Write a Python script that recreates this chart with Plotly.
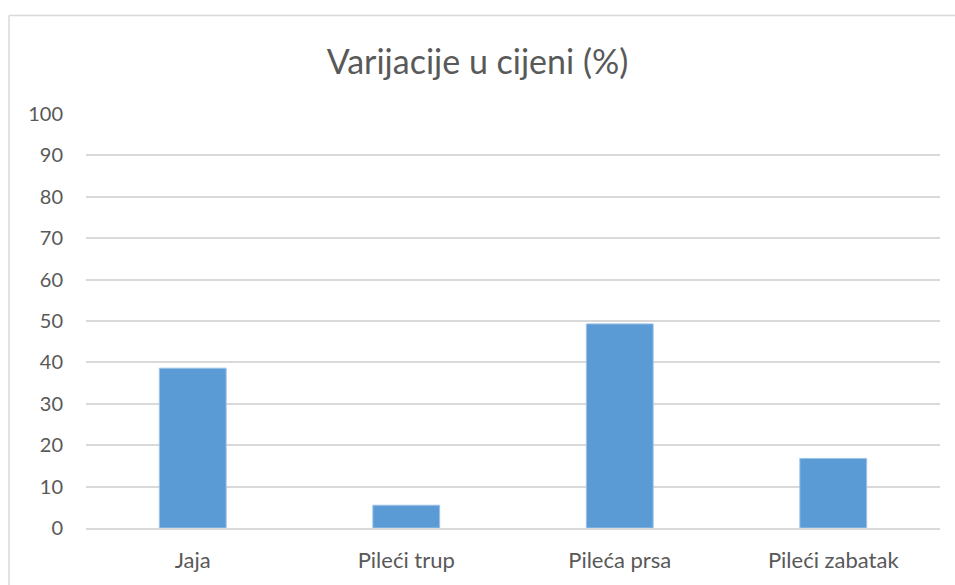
import plotly.graph_objects as go

categories = ["Jaja", "Pileći trup", "Pileća prsa", "Pileći zabatak"]
values = [38.6, 5.5, 49.3, 16.8]
y_ticks = list(range(0, 101, 10))

text_color = "#595959"
grid_color = "#D9D9D9"

fig = go.Figure()
fig.add_trace(
    go.Bar(
        x=categories,
        y=values,
        marker=dict(color="#5B9BD5", line=dict(color="#9DC3E6", width=1)),
        width=0.313,
    )
)

# light chart frame: only its top and left edges are inside the picture
frame = dict(color="#D9D9D9", width=1.5)
fig.add_shape(type="line", xref="paper", yref="paper",
              x0=-0.0902, x1=1.2, y0=1.238, y1=1.238, line=frame)
fig.add_shape(type="line", xref="paper", yref="paper",
              x0=-0.0902, x1=-0.0902, y0=1.238, y1=-0.3, line=frame)

fig.update_layout(
    width=955,
    height=585,
    margin=dict(l=86, r=15, t=114, b=55),
    paper_bgcolor="white",
    plot_bgcolor="white",
    showlegend=False,
    font=dict(family="Lato", color=text_color, size=20),
    title=dict(
        text="Varijacije u cijeni (%)",
        x=0.5,
        xanchor="center",
        yref="container",
        y=0.894,
        yanchor="middle",
        font=dict(size=34, color=text_color),
    ),
    xaxis=dict(
        showgrid=False,
        showline=True,
        linecolor=grid_color,
        linewidth=1.5,
        ticks="",
        ticklabelstandoff=12,
        tickfont=dict(size=22),
    ),
    yaxis=dict(
        range=[0, 100],
        tickvals=y_ticks,
        showgrid=True,
        gridcolor=grid_color,
        gridwidth=1.5,
        zeroline=False,
        ticks="",
        ticklabelstandoff=22,
        tickfont=dict(size=20),
    ),
)

# drop the page's default body margin so the figure fills the window exactly
fig.write_html(
    "out.html",
    config={"displayModeBar": False},
    post_script="document.body.style.margin='0';",
)
